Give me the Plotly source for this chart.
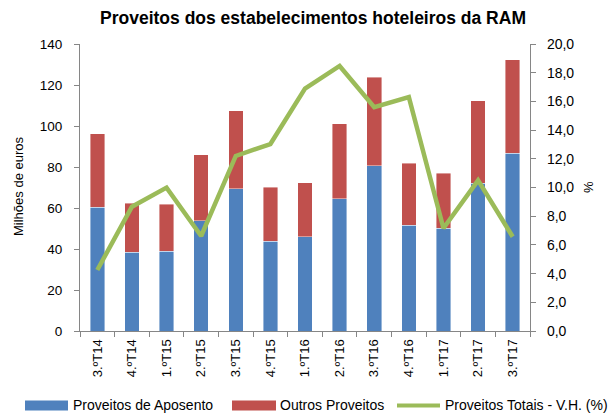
import plotly.graph_objects as go

categories = ["3.ºT14", "4.ºT14", "1.ºT15", "2.ºT15", "3.ºT15", "4.ºT15", "1.ºT16",
              "2.ºT16", "3.ºT16", "4.ºT16", "1.ºT17", "2.ºT17", "3.ºT17"]
proveitos_aposento = [60.3, 38.4, 39.0, 53.7, 69.4, 43.9, 46.0, 64.6, 80.5, 51.6, 50.1, 72.0, 86.7]
totais = [96.3, 62.4, 61.9, 85.9, 107.5, 70.1, 72.2, 101.1, 123.9, 81.8, 76.9, 112.2, 132.2]
outros_proveitos = [round(t - a, 1) for t, a in zip(totais, proveitos_aposento)]
variacao_homologa = [4.25, 8.66, 9.99, 6.62, 12.2, 13.03, 16.9, 18.47, 15.6, 16.3, 7.16, 10.5, 6.57]
left_ticks = [0, 20, 40, 60, 80, 100, 120, 140]
right_ticks = [0, 2, 4, 6, 8, 10, 12, 14, 16, 18, 20]

BLUE = "#4F81BD"
RED = "#C0504D"
GREEN = "#9BBB59"
AXIS = "#868686"
FONT = "Liberation Sans, Arial, sans-serif"

W, H = 615, 414
L, R, T, B = 80, 85, 44, 83
PW, PH = W - L - R, H - T - B

def px_x(x):
    return (x - L) / PW

def px_y(y):
    return (H - B - y) / PH

fig = go.Figure()
fig.add_trace(go.Bar(x=categories, y=proveitos_aposento, name="Proveitos de Aposento",
                     marker=dict(color=BLUE, line=dict(color="rgba(255,255,255,0.7)", width=0.6)),
                     showlegend=False))
fig.add_trace(go.Bar(x=categories, y=outros_proveitos, name="Outros Proveitos",
                     marker=dict(color=RED, line=dict(color="rgba(255,255,255,0.7)", width=0.6)),
                     showlegend=False))
fig.add_trace(go.Scatter(x=categories, y=variacao_homologa, name="Proveitos Totais - V.H. (%)",
                         mode="lines", line=dict(color=GREEN, width=4.5), yaxis="y2",
                         showlegend=False))

fig.update_layout(
    width=W, height=H,
    margin=dict(l=L, r=R, t=T, b=B, autoexpand=False),
    paper_bgcolor="white", plot_bgcolor="white",
    barmode="stack", bargap=0.58,
    font=dict(family=FONT, size=13, color="black"),
    title=dict(text="<b>Proveitos dos estabelecimentos hoteleiros da RAM</b>",
               x=313 / W, xanchor="center", y=1 - 18 / H, yanchor="middle", yref="container",
               font=dict(family=FONT, size=17.5, color="black")),
    xaxis=dict(type="category", tickangle=-90, tickson="boundaries", ticks="outside",
               ticklen=5, tickcolor=AXIS, showline=True, linecolor=AXIS, linewidth=1.2,
               showgrid=False, tickfont=dict(size=13), ticklabelstandoff=2),
    yaxis=dict(range=[0, 140], tickvals=left_ticks, ticks="outside", ticklen=5,
               tickcolor=AXIS, showline=True, linecolor=AXIS, linewidth=1.2,
               showgrid=False, zeroline=False, tickfont=dict(size=13.5),
               ticklabelstandoff=9),
    yaxis2=dict(range=[0, 20], tickvals=right_ticks,
                ticktext=[f"{v:.1f}".replace(".", ",") for v in right_ticks],
                overlaying="y", side="right", ticks="outside", ticklen=5,
                tickcolor=AXIS, showline=True, linecolor=AXIS, linewidth=1.2,
                showgrid=False, zeroline=False, tickfont=dict(size=14),
                ticklabelstandoff=8),
)

annotations = [
    dict(text="Milhões de euros", x=px_x(18), y=px_y(187), xref="paper", yref="paper",
         textangle=-90, showarrow=False, font=dict(size=13), xanchor="center", yanchor="middle"),
    dict(text="%", x=px_x(588), y=px_y(187), xref="paper", yref="paper",
         textangle=-90, showarrow=False, font=dict(size=13), xanchor="center", yanchor="middle"),
]
shapes = []
LEG_Y = 404.5
legend_items = [
    ("Proveitos de Aposento", BLUE, "rect", 25, 68, 72),
    ("Outros Proveitos", RED, "rect", 232, 276, 279),
    ("Proveitos Totais - V.H. (%)", GREEN, "line", 397, 440, 444),
]
for name, color, kind, x0, x1, tx in legend_items:
    if kind == "rect":
        shapes.append(dict(type="rect", xref="paper", yref="paper",
                           x0=px_x(x0), x1=px_x(x1), y0=px_y(LEG_Y + 6), y1=px_y(LEG_Y - 4),
                           fillcolor=color, line=dict(width=0)))
    else:
        shapes.append(dict(type="line", xref="paper", yref="paper",
                           x0=px_x(x0), x1=px_x(x1), y0=px_y(LEG_Y + 1), y1=px_y(LEG_Y + 1),
                           line=dict(color=color, width=4)))
    annotations.append(dict(text=name, x=px_x(tx), y=px_y(LEG_Y), xref="paper", yref="paper",
                            showarrow=False, xanchor="left", yanchor="middle",
                            font=dict(size=14), borderpad=0))

fig.update_layout(annotations=annotations, shapes=shapes)
fig.write_html("out.html", config={"displayModeBar": False},
               post_script="document.body.style.margin='0';document.body.style.overflow='hidden';")
